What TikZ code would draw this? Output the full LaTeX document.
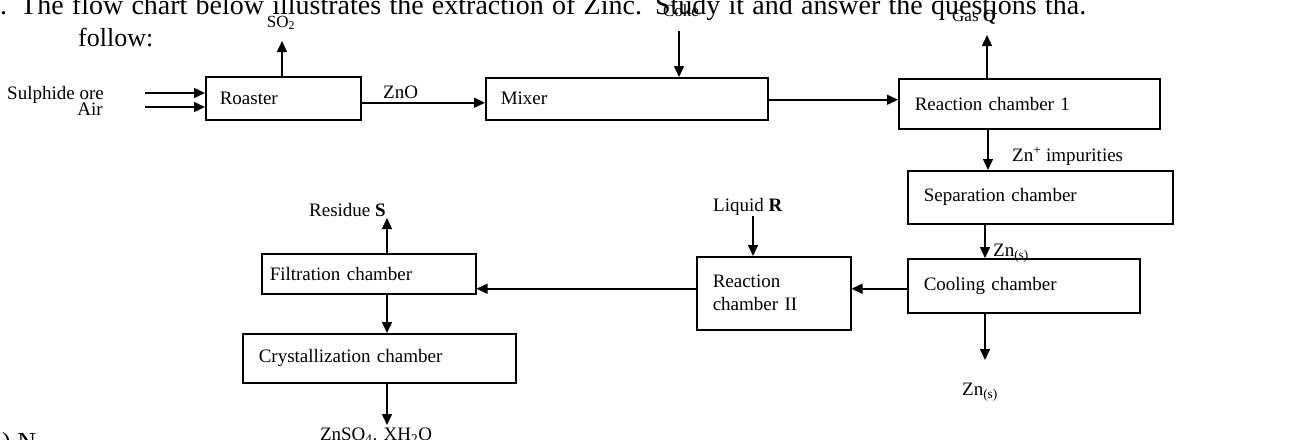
\documentclass[tikz,border=0pt]{standalone}
\usepackage{fontspec}
\setmainfont{Liberation Serif}
\usetikzlibrary{arrows.meta,calc}
\begin{document}
\begin{tikzpicture}[x=1pt,y=-1pt,
  box/.style={draw, line width=1.5pt, anchor=north west, inner xsep=15pt, inner ysep=0pt, align=left, font=\fontsize{19}{23}\selectfont},
  lbl/.style={inner sep=0pt, font=\fontsize{19}{22}\selectfont},
  small/.style={inner sep=0pt, font=\fontsize{17}{20}\selectfont},
  ttl/.style={inner sep=0pt, anchor=base west, font=\fontsize{28}{32}\selectfont},
  arr/.style={line width=1.5pt, -{Triangle[length=11pt,width=10pt]}},
]
\useasboundingbox (0,0) rectangle (1303,439);

% title text
\node[ttl] (title) at (-14,14) {\makebox[1100pt][s]{1. The flow chart below illustrates the extraction of Zinc. Study it and answer the questions tha.}};
\node[ttl, font=\fontsize{26}{30}\selectfont] (follow) at (78,46) {follow:};
\node[ttl, font=\fontsize{26}{30}\selectfont] (bottom) at (2,450) {) N};

% boxes
\node[box, text width=127pt, minimum height=43pt, inner xsep=14pt] (roaster) at (205,76) {Roaster};
\node[box, text width=252pt, minimum height=42pt] (mixer) at (485,77) {Mixer};
\node[box, text width=229pt, minimum height=50pt, inner xsep=16pt] (rc1) at (898,78) {Reaction chamber 1};
\node[box, text width=233pt, minimum height=53pt, inner xsep=16pt] (sep) at (907,170) {Separation chamber};
\node[box, text width=200pt, minimum height=54pt, inner xsep=16pt] (cool) at (907,258) {Cooling chamber};
\node[box, text width=122pt, minimum height=73pt, inner xsep=16pt] (rc2) at (696,256) {Reaction\\chamber II};
\node[box, text width=198pt, minimum height=40pt, inner xsep=8pt] (filt) at (261,253) {Filtration chamber};
\node[box, text width=241pt, minimum height=49pt, inner xsep=16pt] (cryst) at (242,333) {Crystallization chamber};

% labels
\node[lbl, anchor=base west] (ore) at (7,99) {Sulphide ore};
\node[lbl, anchor=base east] (air) at (103,115) {Air};
\node[small] (so2) at (281,23) {SO\textsubscript{2}};
\node[lbl, anchor=base west] (zno) at (383,98) {ZnO};
\node[small] (coke) at (681,11) {Coke};
\node[small, anchor=base west] (gasq) at (952,21) {Gas \textbf{Q}};
\node[lbl, anchor=base west] (znimp) at (1012,161) {Zn\textsuperscript{+} impurities};
\node[lbl, anchor=base west] (zns1) at (993,256) {Zn\textsubscript{(s)}};
\node[lbl, anchor=base west] (liqR) at (713,211) {Liquid \textbf{R}};
\node[lbl, anchor=base west] (resS) at (309,216) {Residue \textbf{S}};
\node[lbl] (zns2) at (980,392) {Zn\textsubscript{(s)}};
\node[lbl] (znso4) at (376,436) {ZnSO\textsubscript{4}. XH\textsubscript{2}O};

% helper coordinates
\coordinate (in1) at (145,93);
\coordinate (in2) at (145,107);
\coordinate (so2tip) at (282,41);
\coordinate (coketop) at (679,31);
\coordinate (qtip) at (987,35);
\coordinate (d1) at (988,0);
\coordinate (d2) at (985,0);
\coordinate (rtop) at (753,216);
\coordinate (stip) at (387,218);
\coordinate (zntip) at (985,360);
\coordinate (znso4tip) at (387,425);

% connectors
\draw[arr] (in1) -- (in1 -| roaster.west);
\draw[arr] (in2) -- (in2 -| roaster.west);
\draw[arr] (so2tip |- roaster.north) -- (so2tip);
\draw[arr] ([yshift=-4.5pt]roaster.east) -- ([yshift=-4.5pt]roaster.east -| mixer.west);
\draw[arr] (coketop) -- (coketop |- mixer.north);
\draw[arr] ([yshift=-1pt]mixer.east) -- ([yshift=-1pt]mixer.east -| rc1.west);
\draw[arr] (qtip |- rc1.north) -- (qtip);
\draw[arr] (d1 |- rc1.south) -- (d1 |- sep.north);
\draw[arr] (d2 |- sep.south) -- (d2 |- cool.north);
\draw[arr] ([yshift=-3pt]cool.west) -- ([yshift=-3pt]cool.west -| rc2.east);
\draw[arr] (rtop) -- (rtop |- rc2.north);
\draw[arr] ([yshift=4.5pt]rc2.west) -- ([yshift=4.5pt]rc2.west -| filt.east);
\draw[arr] (stip |- filt.north) -- (stip);
\draw[arr] (stip |- filt.south) -- (stip |- cryst.north);
\draw[arr] (znso4tip |- cryst.south) -- (znso4tip);
\draw[arr] (zntip |- cool.south) -- (zntip);
\end{tikzpicture}
\end{document}
